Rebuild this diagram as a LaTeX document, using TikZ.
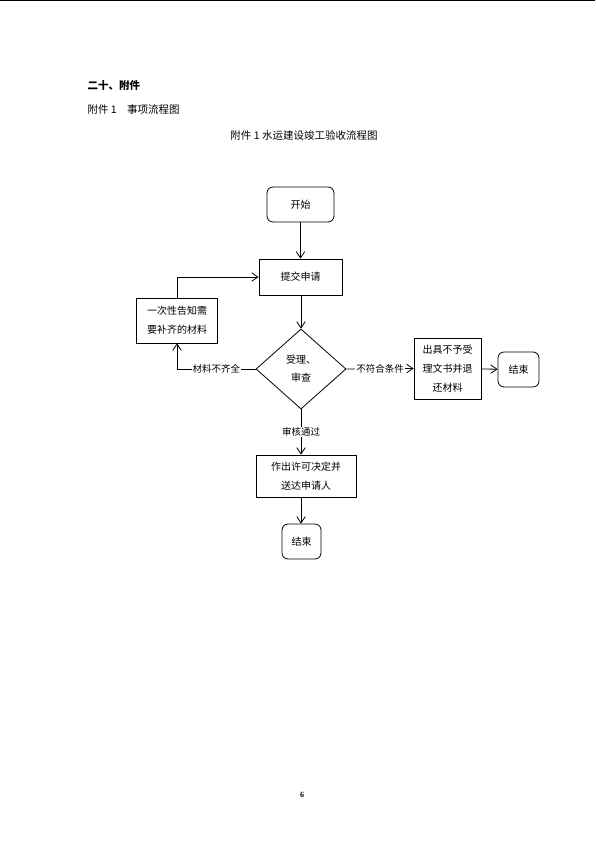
\documentclass[tikz,border=0pt]{standalone}
\usepackage{fontspec}
\setmainfont{Liberation Serif}
\newfontfamily\cjk{Noto Sans CJK SC}
\usetikzlibrary{arrows.meta, positioning, shapes.geometric}

\begin{document}
\begin{tikzpicture}[x=1pt, y=-1pt,
  box/.style={rectangle, draw, thick, inner sep=0pt, align=center, font=\cjk\fontsize{10}{19}\selectfont},
  endbox/.style={box, rounded corners=6pt},
  check/.style={diamond, draw, thick, inner sep=0pt, minimum width=90pt, minimum height=80pt, align=center, font=\cjk\fontsize{10}{18}\selectfont},
  lbl/.style={fill=white, inner sep=1pt, font=\cjk\fontsize{9.5}{11}\selectfont},
  arrow/.style={-{Straight Barb[length=2.2mm, width=3mm]}, thick}
]
\useasboundingbox (0,0) rectangle (595,841);
\draw[line width=1.5pt] (0,0.7) -- (595,0.7);

\node[anchor=west, font=\cjk\bfseries\fontsize{10.5}{12}\selectfont] (sec) at (84,86) {二十、附件};
\node[anchor=west, font=\cjk\fontsize{10.5}{12}\selectfont] (sub) at (84,110) {附件 1\quad 事项流程图};
\node[font=\cjk\fontsize{10.5}{12}\selectfont] (title) at (304,135) {附件 1 水运建设竣工验收流程图};

\node[endbox, minimum width=67pt, minimum height=35pt] (start) at (300.5,204.5) {开始};
\node[box, minimum width=83pt, minimum height=36pt] (submit) at (300.5,277) {提交申请};
\node[box, minimum width=81pt, minimum height=45pt] (need) at (177,320.5) {一次性告知需\\要补齐的材料};
\node[check] (dia) at (301,369) {受理、\\审查};
\node[box, minimum width=67pt, minimum height=61pt] (refuse) at (447.5,368.5) {出具不予受\\理文书并退\\还材料};
\node[endbox, minimum width=41pt, minimum height=35pt] (endA) at (518.5,369.5) {结束};
\node[box, minimum width=100pt, minimum height=42pt] (permit) at (306,476) {作出许可决定并\\送达申请人};
\node[endbox, minimum width=39pt, minimum height=35pt] (endB) at (301.5,541.5) {结束};

\draw[arrow] (start) -- (submit);
\draw[arrow] (submit.south -| dia) -- (dia.north);
\draw[arrow] (dia.west) -- (dia.west -| need) node[midway, lbl] {材料不齐全} -- (need.south);
\draw[arrow] (need.north) |- (submit.west);
\draw[arrow] (dia.east) -- (refuse.west) node[midway, lbl] {不符合条件};
\draw[arrow] (refuse) -- (endA);
\draw[arrow] (dia.south) -- (dia.south |- permit.north) node[midway, lbl] {审核通过};
\draw[arrow] (permit.south -| dia) -- (endB.north -| dia);

\node[font=\bfseries\fontsize{8}{9}\selectfont] (page) at (302,795) {6};
\end{tikzpicture}
\end{document}
